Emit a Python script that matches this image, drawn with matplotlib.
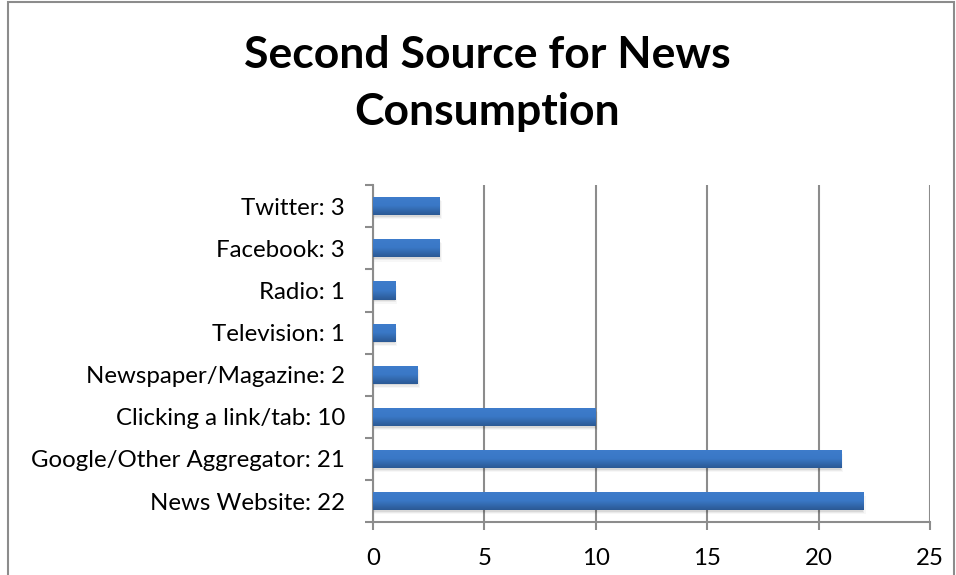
import numpy as np
import matplotlib.pyplot as plt
from matplotlib.colors import LinearSegmentedColormap
from matplotlib.patches import Rectangle

# data, bottom to top as in the chart
sources = ["News Website", "Google/Other Aggregator", "Clicking a link/tab",
           "Newspaper/Magazine", "Television", "Radio", "Facebook", "Twitter"]
counts = [22, 21, 10, 2, 1, 1, 3, 3]
labels = [f"{s}: {c}" for s, c in zip(sources, counts)]

plt.rcParams['font.family'] = ['Lato', 'DejaVu Sans']

fig = plt.figure(figsize=(9.56, 5.75), dpi=100)
ax = fig.add_axes([0.390, 0.092, 0.583, 0.586])

# outer chart frame
fig.patches.append(Rectangle((8 / 956, -0.1), (946) / 956, 1.097,
                             transform=fig.transFigure, fill=False,
                             edgecolor='#8c8c8c', linewidth=1.5))

y = np.arange(len(sources))
bh = 0.43

# soft shadow under bars
for yi, c in zip(y, counts):
    for k, a in enumerate([0.08, 0.05, 0.03]):
        off = 0.04 + 0.03 * k
        ax.add_patch(Rectangle((0, yi - bh / 2 - off), c + 0.05 * k, bh,
                               facecolor='black', alpha=a, linewidth=0,
                               zorder=2))

bars = ax.barh(y, counts, height=bh, color='#3470b8', zorder=3)

# vertical gradient fill on each bar
cmap = LinearSegmentedColormap.from_list('bar', ['#2b5994', '#3a78c6', '#3e7ccb'])
grad = np.linspace(0, 1, 64).reshape(-1, 1)
for b in bars:
    x0, y0 = b.get_x(), b.get_y()
    im = ax.imshow(grad, cmap=cmap, aspect='auto', origin='lower',
                   extent=[x0, x0 + b.get_width(), y0, y0 + b.get_height()],
                   zorder=4)
    im.set_clip_path(b)

ax.set_xlim(0, 25)
ax.set_ylim(-0.5, len(sources) - 0.5)
ax.set_xticks(np.arange(0, 26, 5))
ax.set_yticks(y)
ax.set_yticklabels(labels)
ax.set_yticks(np.arange(-0.5, len(sources), 1), minor=True)

ax.xaxis.grid(True, color='#8c8c8c', linewidth=1.5, zorder=0)
ax.set_axisbelow(True)

for s in ['top', 'right']:
    ax.spines[s].set_visible(False)
for s in ['left', 'bottom']:
    ax.spines[s].set_color('#8c8c8c')
    ax.spines[s].set_linewidth(1.5)

ax.tick_params(axis='y', which='major', length=0, pad=20, labelsize=17.3)
ax.tick_params(axis='y', which='minor', length=6, width=1.5, color='#8c8c8c')
ax.tick_params(axis='x', length=6, width=1.5, color='#8c8c8c',
               labelsize=17.3, pad=13)

fig.text(0.510, 0.904, "Second Source for News", ha='center', va='center',
         fontsize=32, fontweight='bold')
fig.text(0.510, 0.805, "Consumption", ha='center', va='center',
         fontsize=32, fontweight='bold')

fig.savefig('out.png', dpi=100)
